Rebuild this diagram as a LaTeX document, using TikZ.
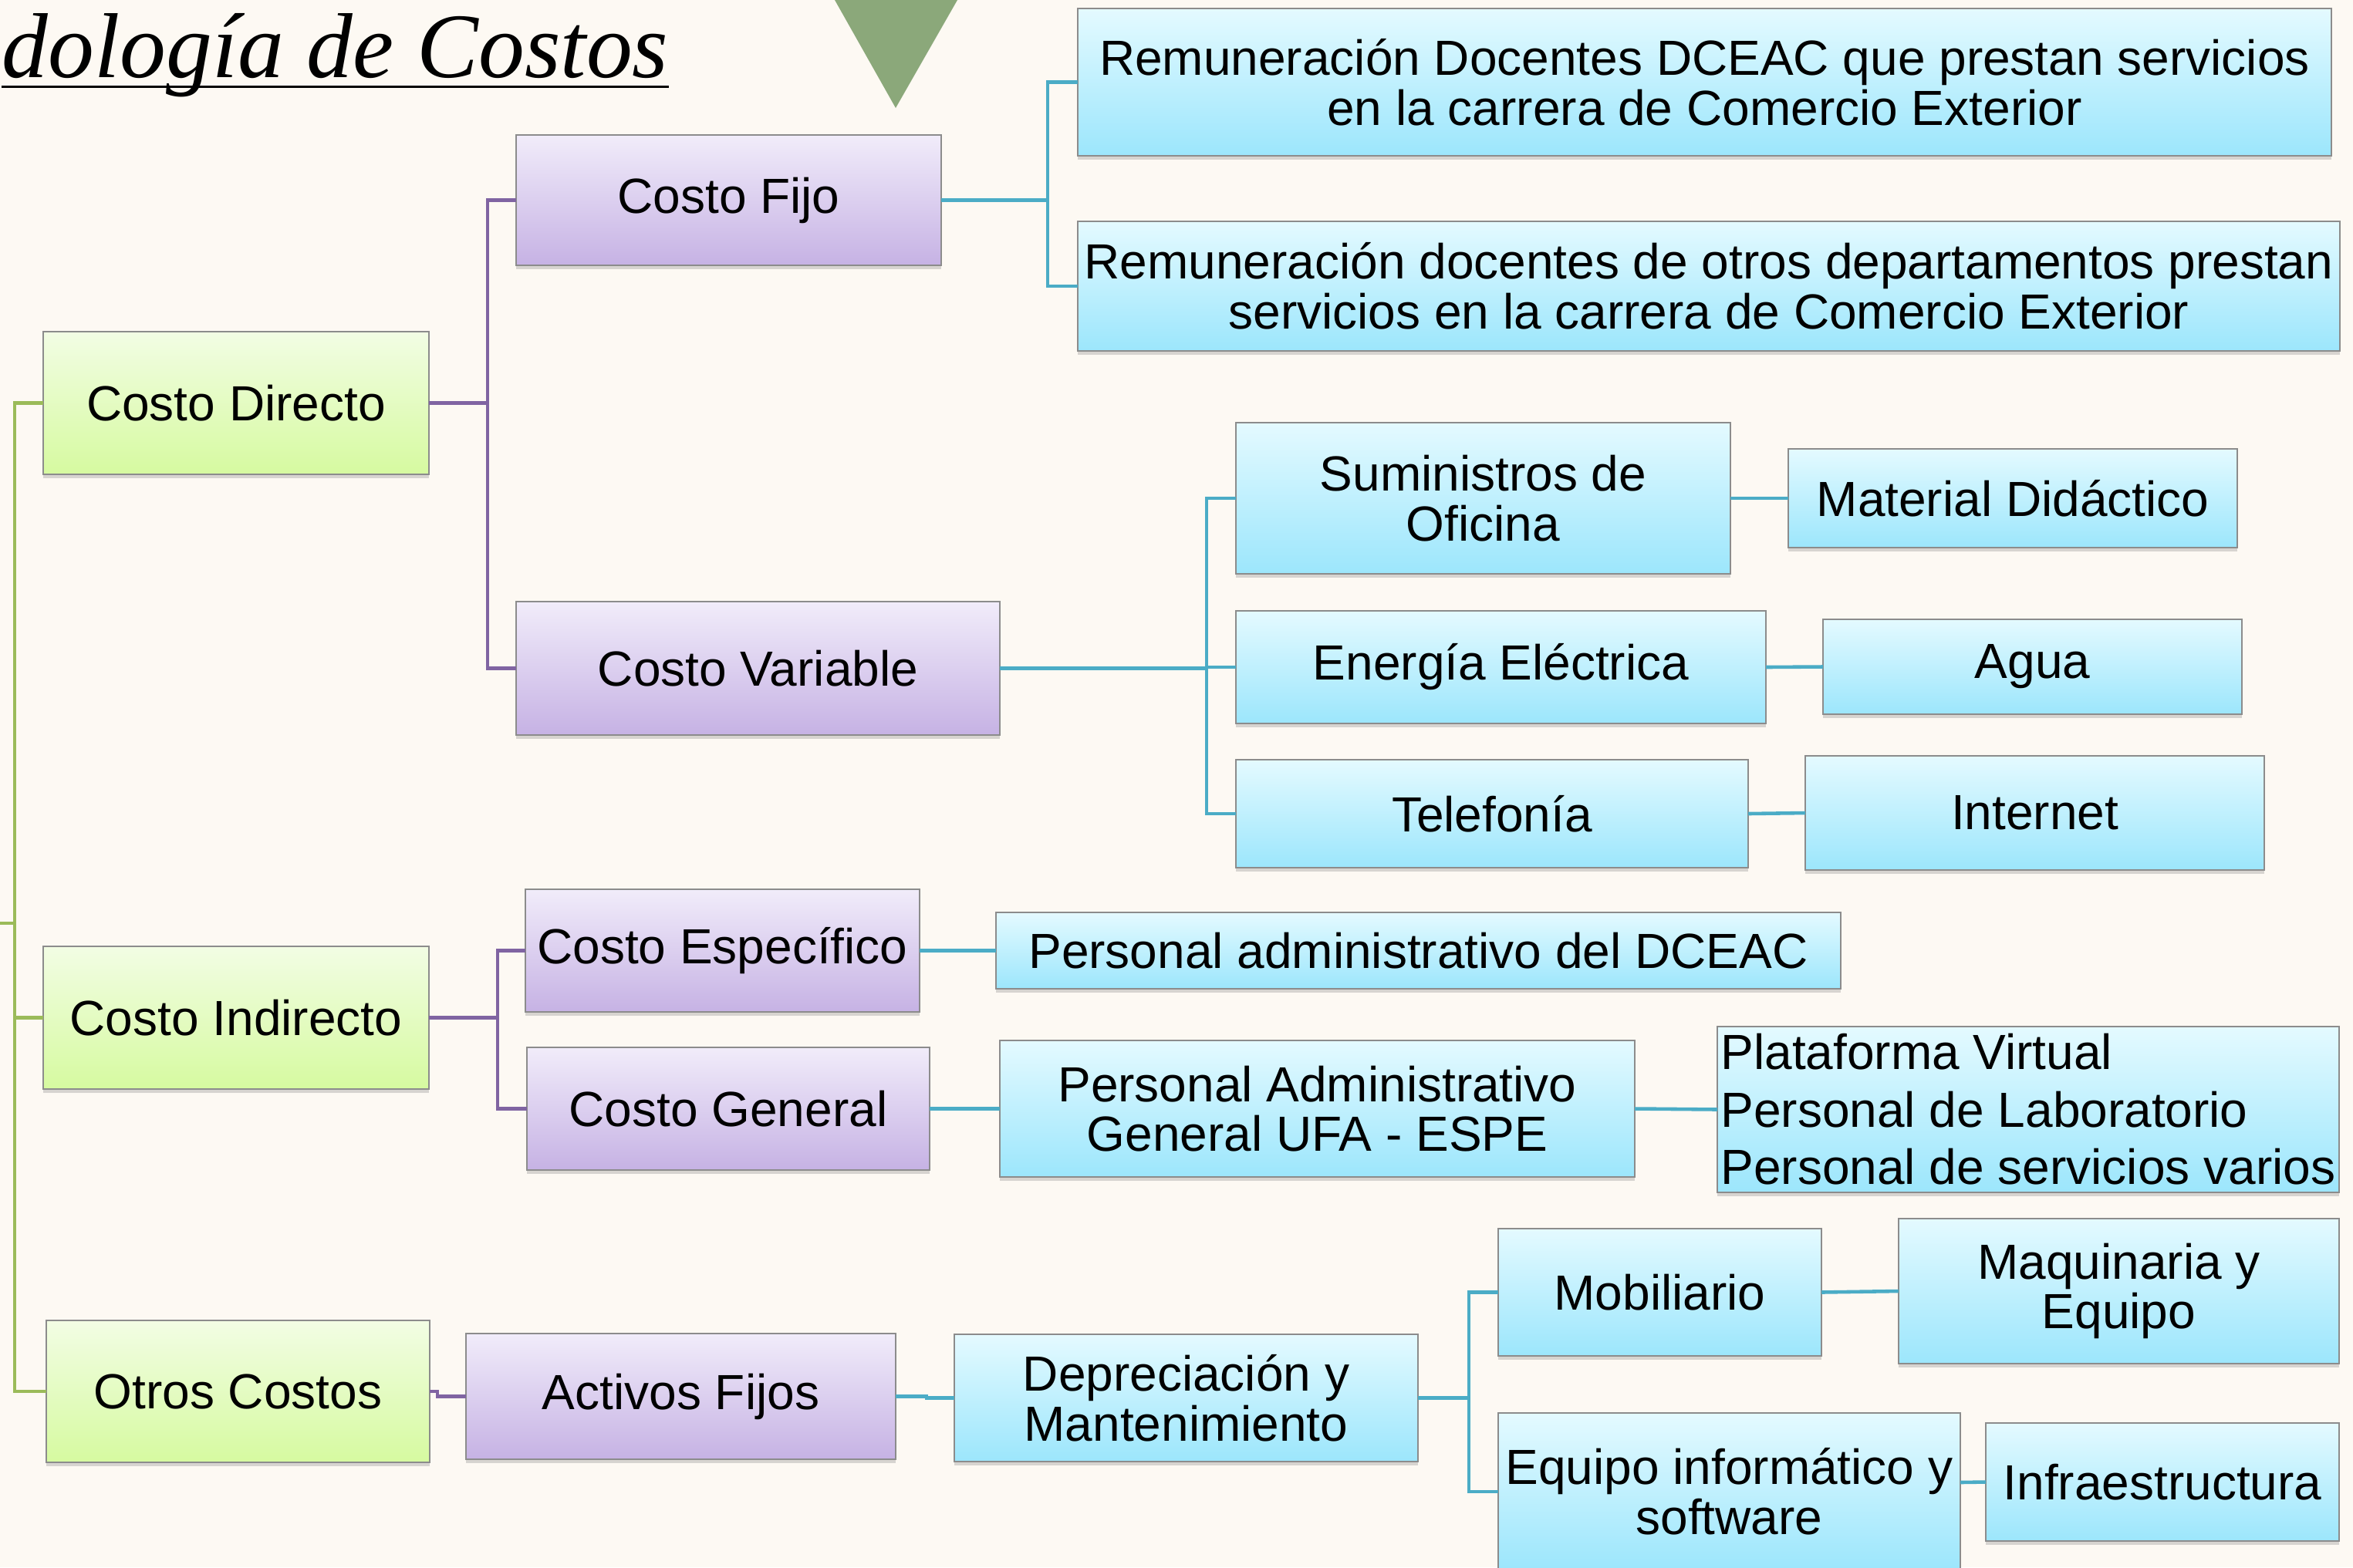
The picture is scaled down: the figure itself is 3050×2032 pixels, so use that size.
\documentclass[tikz,border=0pt]{standalone}
\usepackage{fontspec}
\setmainfont{Liberation Sans}
\newfontfamily\titlefont{Liberation Serif}
\usetikzlibrary{shadows}
\definecolor{bgc}{RGB}{253,249,243}
\definecolor{gl}{RGB}{155,187,89}
\definecolor{pl}{RGB}{128,100,162}
\definecolor{bl}{RGB}{75,172,198}
\definecolor{gtop}{RGB}{242,253,228}
\definecolor{gbot}{RGB}{214,250,160}
\definecolor{ptop}{RGB}{241,236,250}
\definecolor{pbot}{RGB}{198,178,228}
\definecolor{btop}{RGB}{228,250,255}
\definecolor{bbot}{RGB}{156,230,252}
\definecolor{tri}{RGB}{139,168,122}
\definecolor{bord}{RGB}{140,140,140}
\newcommand\mybox[7]{%
  \node[#1, anchor=north west, minimum width={(#5-#3)*0.01cm}, minimum height={(#6-#4)*0.01cm}] (#2) at (#3,#4) {#7};}
\begin{document}
\begin{tikzpicture}[x=0.01cm,y=-0.01cm,
  box/.style={draw=bord, line width=0.5pt, inner sep=0pt, outer sep=0pt, align=center,
    font=\fontsize{18.2}{18.4}\selectfont,
    drop shadow={shadow xshift=0pt, shadow yshift=-1.3pt, opacity=0.3}},
  gbox/.style={box, top color=gtop, bottom color=gbot},
  pbox/.style={box, top color=ptop, bottom color=pbot},
  bbox/.style={box, top color=btop, bottom color=bbot},
  conn/.style={line width=1.3pt},
  gline/.style={conn, draw=gl},
  pline/.style={conn, draw=pl},
  bline/.style={conn, draw=bl}]
\useasboundingbox (0,0) rectangle (3050,2032);
\clip (0,0) rectangle (3050,2032);
\fill[bgc] (0,0) rectangle (3050,2032);

% title and triangle
\node[anchor=base west, inner sep=0pt, font=\titlefont\itshape\fontsize{34}{36}\selectfont] (title) at (2,100) {dología de Costos};
\draw[line width=0.9pt] ([yshift=-3.6pt]title.base west) -- ([yshift=-3.6pt]title.base east);
\fill[tri] (1082,0) -- (1241,0) -- (1161,140) -- cycle;

% level 1
\mybox{gbox}{cd}{56}{430}{556}{615}{Costo Directo}
\mybox{gbox}{ci}{56}{1227}{556}{1412}{Costo Indirecto}
\mybox{gbox}{oc}{60}{1712}{557}{1896}{Otros Costos}

% level 2
\mybox{pbox}{cf}{669}{175}{1220}{344}{Costo Fijo}
\mybox{pbox}{cv}{669}{780}{1296}{953}{Costo Variable}
\mybox{pbox}{ce}{681}{1153}{1192}{1312}{Costo Específico}
\mybox{pbox}{cg}{683}{1358}{1205}{1517}{Costo General}
\mybox{pbox}{af}{604}{1729}{1161}{1892}{Activos Fijos}

% level 3+
\mybox{bbox}{r1}{1397}{11}{3022}{202}{Remuneración Docentes DCEAC que prestan servicios\\en la carrera de Comercio Exterior}
\mybox{bbox}{r2}{1397}{287}{3033}{455}{Remuneración docentes de otros departamentos prestan\\servicios en la carrera de Comercio Exterior}
\mybox{bbox}{so}{1602}{548}{2243}{744}{Suministros de\\Oficina}
\mybox{bbox}{md}{2318}{582}{2900}{710}{Material Didáctico}
\mybox{bbox}{ee}{1602}{792}{2289}{938}{Energía Eléctrica}
\mybox{bbox}{ag}{2363}{803}{2906}{926}{Agua}
\mybox{bbox}{te}{1602}{985}{2266}{1125}{Telefonía}
\mybox{bbox}{in}{2340}{980}{2935}{1128}{Internet}
\mybox{bbox}{pd}{1291}{1183}{2386}{1282}{Personal administrativo del DCEAC}
\mybox{bbox}{pg}{1296}{1349}{2119}{1526}{Personal Administrativo\\General UFA - ESPE}
\mybox{bbox, align=left, font=\fontsize{18.2}{21.2}\selectfont}{pv}{2226}{1331}{3032}{1546}{Plataforma Virtual\\Personal de Laboratorio\\Personal de servicios varios}
\mybox{bbox}{dm}{1237}{1730}{1838}{1895}{Depreciación y\\Mantenimiento}
\mybox{bbox}{mo}{1942}{1593}{2361}{1758}{Mobiliario}
\mybox{bbox}{mq}{2461}{1580}{3032}{1768}{Maquinaria y\\Equipo}
\mybox{bbox}{ei}{1942}{1832}{2541}{2036}{Equipo informático y\\software}
\mybox{bbox}{ie}{2574}{1845}{3032}{1998}{Infraestructura}

% green connectors
\coordinate (gx) at (19,0);
\coordinate (groot) at (0,1197);
\draw[gline] (cd.west) -- (cd.west -| gx) |- (oc.west);
\draw[gline] (ci.west) -- (ci.west -| gx);
\draw[gline] (groot) -- (groot -| gx);

% purple connectors
\coordinate (px1) at (632,0);
\draw[pline] (cd.east) -- (cd.east -| px1);
\draw[pline] (cf.west) -- (cf.west -| px1) |- (cv.west);
\coordinate (px2) at (645,0);
\draw[pline] (ci.east) -- (ci.east -| px2);
\draw[pline] (ce.west) -- (ce.west -| px2) |- (cg.west);
\draw[pline] (oc.east) -- ++(10,0) |- (af.west);

% blue connectors
\coordinate (bx1) at (1358,0);
\draw[bline] (cf.east) -- (cf.east -| bx1);
\draw[bline] (r1.west) -- (r1.west -| bx1) |- (r2.west);
\coordinate (bx2) at (1564,0);
\draw[bline] (cv.east) -- (cv.east -| bx2);
\draw[bline] (so.west) -- (so.west -| bx2) |- (te.west);
\draw[bline] (ee.west) -- (ee.west -| bx2);
\draw[bline] (so.east) -- (md.west);
\draw[bline] (ee.east) -- (ag.west);
\draw[bline] (te.east) -- (in.west);
\draw[bline] (ce.east) -- (pd.west);
\draw[bline] (cg.east) -- (pg.west);
\draw[bline] (pg.east) -- (pv.west);
\draw[bline] (af.east) -- ++(40,0) |- (dm.west);
\coordinate (bx3) at (1904,0);
\draw[bline] (dm.east) -- (dm.east -| bx3);
\coordinate (eiw) at (1942,1934);
\draw[bline] (mo.west) -- (mo.west -| bx3) |- (eiw);
\draw[bline] (mo.east) -- (mq.west);
\coordinate (eie) at (2541,1922);
\draw[bline] (eie) -- (ie.west);
\end{tikzpicture}
\end{document}
